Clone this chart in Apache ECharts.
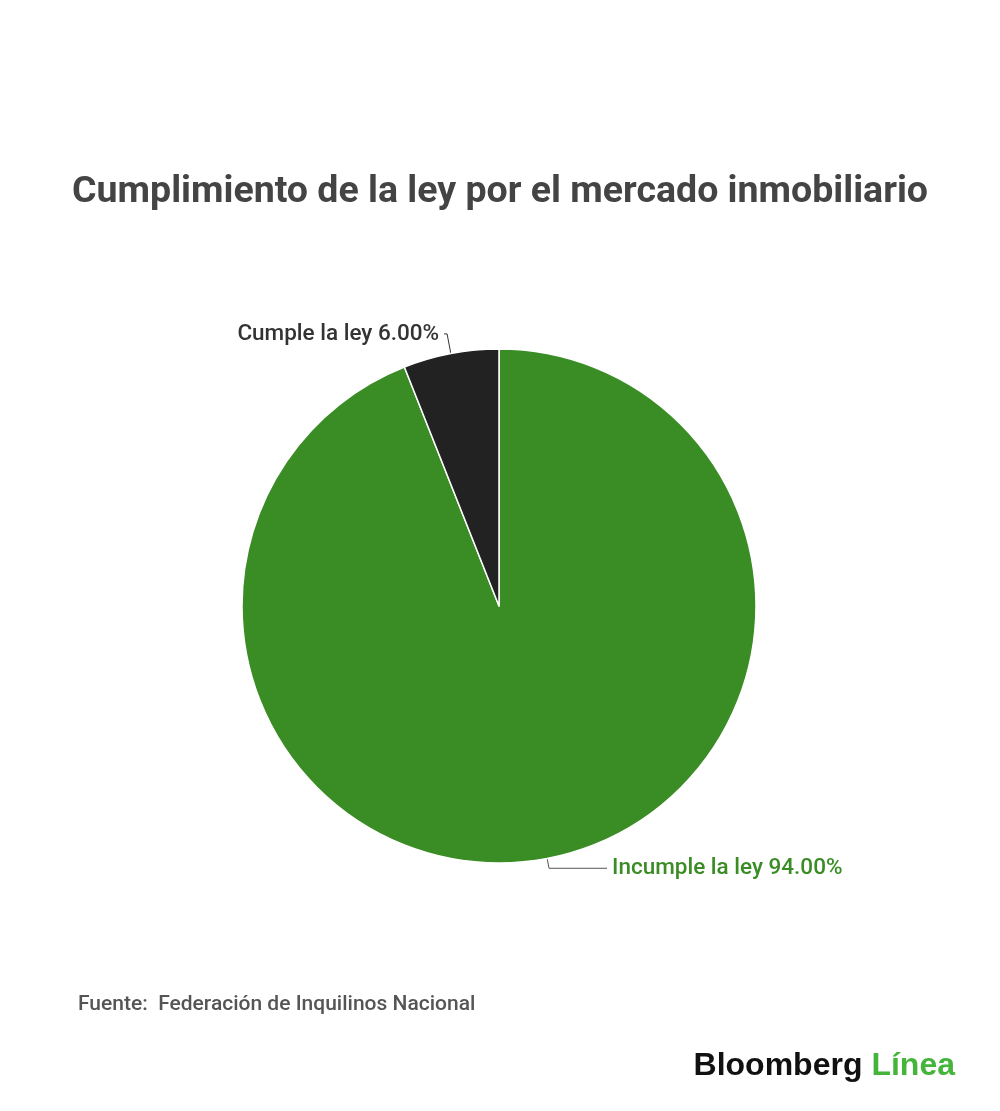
<!DOCTYPE html>
<html>
<head>
<meta charset="utf-8">
<script src="https://cdn.jsdelivr.net/npm/echarts@6/dist/echarts.min.js"></script>
<style>
  html, body { margin: 0; padding: 0; background: #fff; }
  #chart { width: 1000px; height: 1111px; }
</style>
</head>
<body>
<div id="chart"></div>
<script>
// datos del gráfico
var categories = ['Incumple la ley', 'Cumple la ley'];
var values = [94, 6];
var colors = ['#3a8c24', '#222222'];
var labelColors = ['#3a8c24', '#333333'];
var lineLengths = [[10, 58], [20, 3]];

var chart = echarts.init(document.getElementById('chart'));

var option = {
    backgroundColor: '#ffffff',
    title: [
        {
            text: 'Cumplimiento de la ley por el mercado inmobiliario',
            left: 'center',
            top: 169,
            textStyle: {
                fontFamily: 'Roboto',
                fontSize: 37.5,
                fontWeight: 'bold',
                color: '#444444'
            }
        },
        {
            text: 'Fuente:  Federación de Inquilinos Nacional',
            left: 73,
            top: 989,
            textStyle: {
                fontFamily: 'Roboto',
                fontSize: 21,
                fontWeight: 500,
                color: '#555555'
            }
        }
    ],
    graphic: [
        {
            type: 'text',
            right: 45,
            top: 1050,
            style: {
                text: '{a|Bloomberg}{b|Línea}',
                rich: {
                    a: { fontFamily: 'Liberation Sans', fontSize: 32, fontWeight: 'bold', fill: '#111111', padding: [0, 9, 0, 0] },
                    b: { fontFamily: 'Liberation Sans', fontSize: 32, fontWeight: 'bold', fill: '#44b53a' }
                }
            }
        }
    ],
    series: [
        {
            type: 'pie',
            center: [499, 606],
            radius: [0, 257],
            startAngle: 90,
            clockwise: true,
            data: categories.map(function (name, i) {
                return {
                    name: name,
                    value: values[i],
                    itemStyle: { color: colors[i] },
                    label: { color: labelColors[i] },
                    labelLine: {
                        length: lineLengths[i][0],
                        length2: lineLengths[i][1],
                        lineStyle: { color: i === 0 ? '#555555' : '#333333' }
                    }
                };
            }),
            itemStyle: {
                borderColor: '#ffffff',
                borderWidth: 1.5
            },
            label: {
                show: true,
                fontFamily: 'Roboto',
                fontSize: 22.5,
                fontWeight: 500,
                formatter: function (p) {
                    return p.name + ' ' + p.value.toFixed(2) + '%';
                }
            },
            labelLine: {
                show: true,
                lineStyle: { width: 1 }
            }
        }
    ]
};
chart.setOption(option);
</script>
</body>
</html>
